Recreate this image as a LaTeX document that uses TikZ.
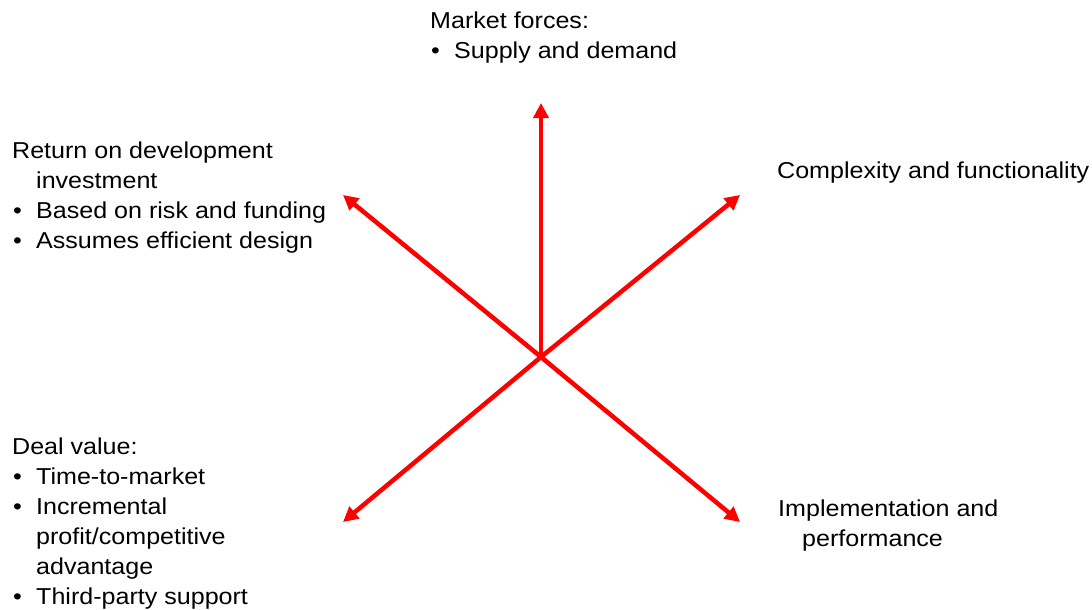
\documentclass[tikz,border=0pt]{standalone}
\usepackage{fontspec}
\setmainfont[FakeStretch=1.09]{Liberation Sans}
\usepackage{xcolor}
\usetikzlibrary{arrows.meta,positioning}
\newcommand{\bul}{\makebox[24pt][l]{\hspace{1pt}\textbullet}}
\newcommand{\ind}{\hspace*{24pt}}
\tikzstyle{blocktext} = [anchor=north west, inner sep=0pt, align=left, font=\fontsize{23}{30}\selectfont]
\tikzstyle{spoke} = [-{Triangle[width=15pt,length=15pt]}, red, line width=4.5pt]

\begin{document}
\begin{tikzpicture}[x=1pt, y=-1pt]
    \useasboundingbox (0,0) rectangle (1092,610);

    % Hub and arrow ends
    \coordinate (hub) at (541,357);
    \coordinate (up) at (541,103);
    \coordinate (upleft) at (343,195);
    \coordinate (upright) at (740,195);
    \coordinate (downleft) at (343,522);
    \coordinate (downright) at (740,522);

    % Arrows
    \draw[spoke] (hub) -- (up);
    \draw[spoke] (hub) -- (upleft);
    \draw[spoke] (hub) -- (upright);
    \draw[spoke] (hub) -- (downleft);
    \draw[spoke] (hub) -- (downright);

    % Texts
    \node[blocktext] (market) at (430,7) {\strut Market forces:\\\bul Supply and demand};
    \node[blocktext] (return) at (12,137) {\strut Return on development\\\ind investment\\\bul Based on risk and funding\\\bul Assumes efficient design};
    \node[blocktext] (complex) at (777,157) {\strut Complexity and functionality};
    \node[blocktext] (deal) at (12,433) {\strut Deal value:\\\bul Time-to-market\\\bul Incremental\\\ind profit/competitive\\\ind advantage\\\bul Third-party support};
    \node[blocktext] (impl) at (778,495) {\strut Implementation and\\\ind performance};
\end{tikzpicture}
\end{document}
